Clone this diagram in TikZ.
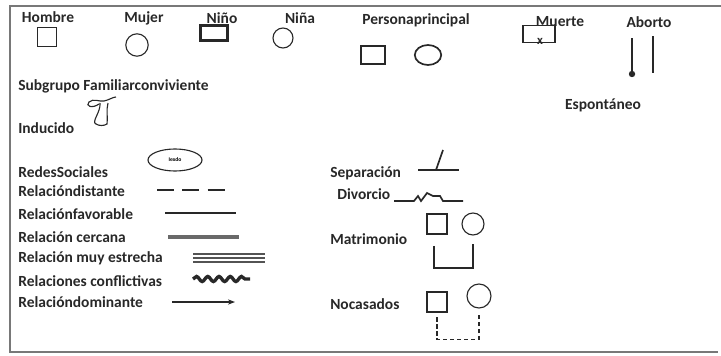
\documentclass[tikz,border=0pt]{standalone}
\usepackage{fontspec}
\setmainfont{Carlito}
\usepackage{xcolor}
\definecolor{inkgray}{RGB}{40, 40, 40}
\definecolor{framegray}{RGB}{120, 120, 120}
\usetikzlibrary{arrows.meta, positioning, shapes.geometric, decorations.pathmorphing}

\begin{document}
\begin{tikzpicture}[
    x=0.025cm, y=-0.025cm,
    lbl/.style={anchor=west, inner sep=0pt, text=inkgray,
                font=\fontsize{11}{13}\selectfont\bfseries},
    ttl/.style={lbl, anchor=center},
    male/.style={draw=inkgray, thick, minimum size=0.48cm, inner sep=0pt},
    female/.style={draw=inkgray, thick, circle, minimum size=0.55cm, inner sep=0pt},
    ink/.style={draw=inkgray, thick},
    arr/.style={-{Stealth[length=5pt]}, inkgray, thick}
  ]
  \useasboundingbox (0,0) rectangle (721,355);
  % marco
  \draw[framegray, line width=1pt] (721,6) -- (10,6) -- (10,352) -- (718,352);

  % fila superior
  \node[ttl] (hombre) at (48,17) {Hombre};
  \node[male] (hombreS) at (47,37) {};
  \node[ttl] (mujer) at (144,18) {Mujer};
  \node[female, minimum size=0.56cm] (mujerC) at (137,45) {};
  \node[ttl] (nino) at (222,18) {Niño};
  \node[male, line width=1.6pt, minimum width=0.68cm, minimum height=0.38cm] (ninoR) at (214,33) {};
  \node[ttl] (nina) at (300,18) {Niña};
  \node[female, minimum size=0.5cm] (ninaC) at (283,38) {};
  \node[ttl] (ppal) at (416,20) {Personaprincipal};
  \node[male, line width=1.5pt, minimum width=0.6cm, minimum height=0.46cm] (ppalS) at (373,55) {};
  \node[ellipse, ink, line width=1.2pt, minimum width=0.66cm, minimum height=0.5cm, inner sep=0pt] (ppalE) at (428,55) {};
  \node[ttl] (muerte) at (560,22) {Muerte};
  \node[male, minimum width=0.8cm, minimum height=0.42cm] (muerteR) at (539,34) {};
  \node[ttl, font=\fontsize{9}{10}\selectfont\bfseries] (muerteX) at (540,41) {x};
  \node[ttl] (aborto) at (649,22) {Aborto};
  \coordinate (abEsTop) at (632,38);
  \coordinate (abEsBot) at (632,74);
  \coordinate (abInTop) at (653,36);
  \coordinate (abInBot) at (653,73);
  \draw[ink] (abEsTop) -- (abEsBot);
  \fill[inkgray] (abEsBot) circle (3.2);
  \draw[ink] (abInTop) -- (abInBot);
  \node[ttl] (espont) at (603,105) {Espontáneo};

  % subgrupo e inducido
  \node[lbl] (subgrupo) at (18,86) {Subgrupo Familiarconviviente};
  \draw[ink] (99,104) .. controls (92,109) and (85,106) .. (89,102)
             .. controls (93,98) and (100,102) .. (104,101)
             .. controls (109,100) and (113,97) .. (116,97);
  \draw[ink] (100,103) .. controls (101,112) and (91,122) .. (96,124)
             .. controls (99,126) and (104,126) .. (107,124)
             .. controls (108,118) and (106,110) .. (108,103);
  \node[lbl] (inducido) at (18,128) {Inducido};

  % relaciones
  \node[lbl] (redes) at (18,172) {RedesSociales};
  \node[ellipse, ink, minimum width=1.35cm, minimum height=0.55cm, inner sep=0pt,
        font=\fontsize{4}{5}\selectfont\bfseries] (redesE) at (175,160) {Iexdo};
  \node[lbl] (distante) at (18,191) {Relacióndistante};
  \coordinate (distA) at (157,190);
  \coordinate (distB) at (229,190);
  \draw[inkgray, line width=1.5pt, dash pattern=on 12pt off 6pt] (distA) -- (distB);
  \node[lbl] (favorable) at (18,214) {Relaciónfavorable};
  \coordinate (favA) at (165,213);
  \coordinate (favB) at (236,213);
  \draw[inkgray, line width=1.6pt] (favA) -- (favB);
  \node[lbl] (cercana) at (18,237) {Relación cercana};
  \coordinate (cerA) at (168,237);
  \coordinate (cerB) at (239,237);
  \draw[inkgray!70, line width=2.6pt] (cerA) -- (cerB);
  \node[lbl] (estrecha) at (18,258) {Relación muy estrecha};
  \coordinate (estA) at (193,258);
  \coordinate (estB) at (265,258);
  \foreach \dy in {-4,0,4}
    \draw[inkgray!80, line width=0.9pt] ([yshift=\dy*0.025cm]estA) -- ([yshift=\dy*0.025cm]estB);
  \node[lbl] (conflict) at (18,281) {Relaciones conflictivas};
  \coordinate (conA) at (193,279);
  \coordinate (conB) at (250,279);
  \draw[inkgray, line width=2.4pt, decorate,
        decoration={snake, amplitude=1.8pt, segment length=8pt}] (conA) -- (conB);
  \node[lbl] (dominante) at (18,302) {Relacióndominante};
  \coordinate (domA) at (172,302);
  \coordinate (domB) at (235,302);
  \draw[arr] (domA) -- (domB);

  % columna derecha
  \node[lbl] (separ) at (330,173) {Separación};
  \coordinate (sepA) at (418,170);
  \coordinate (sepB) at (459,170);
  \coordinate (sepM) at (436,170);
  \coordinate (sepT) at (443,150);
  \draw[inkgray, line width=1.2pt] (sepA) -- (sepB);
  \draw[inkgray, line width=1.2pt] (sepM) -- (sepT);
  \node[lbl] (divorcio) at (337,194) {Divorcio};
  \coordinate (divA) at (394,201);
  \coordinate (divB) at (463,201);
  \draw[inkgray, line width=1.2pt] (divA) -- (414,201) -- (418,196) -- (421,201)
        -- (427,193) -- (433,196) -- (440,196) -- (443,201) -- (divB);
  \node[lbl] (matrim) at (330,239) {Matrimonio};
  \node[male, minimum size=0.5cm] (matH) at (437,224) {};
  \node[female, minimum size=0.55cm] (matM) at (473,224) {};
  \draw[inkgray, line width=1.2pt] ([yshift=-0.28cm]matH.south west -| 434,0) -- (434,268)
        -- (473,268) -- ([yshift=-0.2cm]matM.south);
  \node[lbl] (nocas) at (330,304) {Nocasados};
  \node[male, minimum size=0.5cm] (nocH) at (437,302) {};
  \node[female, minimum size=0.6cm] (nocM) at (479,296) {};
  \draw[inkgray, line width=1.2pt, densely dashed] ([yshift=-0.12cm]nocH.south) -- ++(0,22)
        -| ([yshift=-0.12cm]nocM.south);
\end{tikzpicture}
\end{document}
